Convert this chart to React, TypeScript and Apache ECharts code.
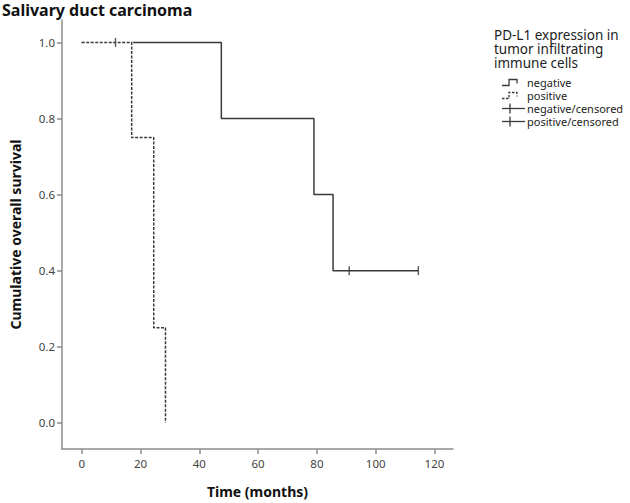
import React, { useEffect, useRef } from "react";
import * as echarts from "echarts";

// Kaplan–Meier step data
const negTimes = [0, 47.5, 79, 85.5, 114.5];
const negSurv = [1, 0.8, 0.6, 0.4, 0.4];
const posTimes = [0, 17, 24.5, 28.5];
const posSurv = [1, 0.75, 0.25, 0];
const negCensorTimes = [91, 114.5];
const negCensorSurv = [0.4, 0.4];
const posCensorTimes = [11.5];
const posCensorSurv = [1];

const xTicks = [0, 20, 40, 60, 80, 100, 120];
const yTicks = [0, 0.2, 0.4, 0.6, 0.8, 1.0];

const legendTitle = ["PD-L1 expression in", "tumor infiltrating", "immune cells"];
const legendItems = ["negative", "positive", "negative/censored", "positive/censored"];

const FONT = "'Noto Sans', 'Open Sans', sans-serif";
const LINE = "#3a3a3a";
const AXIS = "#8c8c8c";

function zip(a: number[], b: number[]) {
  return a.map((v, i) => [v, b[i]]);
}

export default function App() {
  const ref = useRef<HTMLDivElement>(null);
  useEffect(() => {
    if (!ref.current) return;
    const chart = echarts.init(ref.current, null, { renderer: "svg" });
    const tickStyle = { show: true, length: 5, lineStyle: { color: AXIS, width: 1.5 } };
    const legendGraphics: any[] = [];
    legendGraphics.push({
      type: "text",
      x: 494,
      y: 28,
      style: {
        text: legendTitle.join("\n"),
        font: `13.5px ${FONT}`,
        lineHeight: 14,
        fill: "#222",
        verticalAlign: "top",
        align: "left",
      },
    });
    const rowY = [82.5, 95.5, 108.5, 121.5];
    legendItems.forEach((name, i) => {
      const y = rowY[i];
      if (i < 2) {
        legendGraphics.push({
          type: "polyline",
          shape: {
            points: [
              [502, y + 3],
              [509, y + 3],
              [509, y - 3],
              [517, y - 3],
              [517, y + 1],
            ],
          },
          style: {
            stroke: LINE,
            lineWidth: 1.3,
            fill: null,
            lineDash: i === 1 ? [2.5, 1.5] : null,
          },
        });
      } else {
        legendGraphics.push({
          type: "line",
          shape: { x1: 502, y1: y, x2: 525, y2: y },
          style: { stroke: LINE, lineWidth: 1.3 },
        });
        legendGraphics.push({
          type: "line",
          shape: { x1: 510, y1: y - 5, x2: 510, y2: y + 5 },
          style: { stroke: LINE, lineWidth: 1.3 },
        });
      }
    });
    legendGraphics.push({
      type: "text",
      x: 527,
      y: rowY[0] - 6.5,
      style: {
        text: legendItems.join("\n"),
        font: `11px ${FONT}`,
        lineHeight: 13,
        fill: "#222",
        verticalAlign: "top",
        align: "left",
      },
    });

    chart.setOption({
      animation: false,
      backgroundColor: "#fff",
      title: {
        text: "Salivary duct carcinoma",
        left: 2,
        top: 2,
        padding: 0,
        textStyle: { fontFamily: FONT, fontSize: 16, fontWeight: "bold", color: "#111" },
      },
      grid: { left: 61, top: 20, width: 392, height: 435 },
      xAxis: {
        type: "value",
        min: -6.7,
        max: 126.3,
        splitLine: { show: false },
        axisLine: { show: true, onZero: false, lineStyle: { color: AXIS, width: 1.5 } },
        axisTick: { ...tickStyle, customValues: xTicks },
        axisLabel: {
          customValues: xTicks,
          color: "#444",
          fontFamily: FONT,
          fontSize: 11.5,
          margin: 8,
        },
        name: "Time (months)",
        nameLocation: "middle",
        nameGap: 35,
        nameTextStyle: { fontFamily: FONT, fontSize: 14, fontWeight: "bold", color: "#111" },
      },
      yAxis: {
        type: "value",
        min: -0.069,
        max: 1.059,
        splitLine: { show: false },
        axisLine: { show: true, onZero: false, lineStyle: { color: AXIS, width: 1.5 } },
        axisTick: { ...tickStyle, customValues: yTicks },
        axisLabel: {
          customValues: yTicks,
          formatter: (v: number) => v.toFixed(1),
          color: "#444",
          fontFamily: FONT,
          fontSize: 11.5,
          margin: 7,
        },
        name: "Cumulative overall survival",
        nameLocation: "middle",
        nameGap: 40,
        nameTextStyle: { fontFamily: FONT, fontSize: 14, fontWeight: "bold", color: "#111" },
      },
      graphic: legendGraphics,
      series: [
        {
          name: "negative",
          type: "line",
          step: "end",
          data: zip(negTimes, negSurv),
          showSymbol: false,
          lineStyle: { color: LINE, width: 1.5 },
          z: 2,
        },
        {
          name: "positive-under",
          type: "line",
          step: "end",
          data: zip(posTimes, posSurv),
          showSymbol: false,
          lineStyle: { color: "#fff", width: 3 },
          z: 3,
          silent: true,
        },
        {
          name: "positive",
          type: "line",
          step: "end",
          data: zip(posTimes, posSurv),
          showSymbol: false,
          lineStyle: { color: LINE, width: 1.5, type: [3, 1.5] },
          z: 4,
        },
        {
          name: "negative/censored",
          type: "scatter",
          data: zip(negCensorTimes, negCensorSurv),
          symbol: "rect",
          symbolSize: [1.5, 9],
          itemStyle: { color: LINE },
          z: 5,
        },
        {
          name: "positive/censored",
          type: "scatter",
          data: zip(posCensorTimes, posCensorSurv),
          symbol: "rect",
          symbolSize: [1.5, 9],
          itemStyle: { color: LINE },
          z: 5,
        },
      ],
    });
    return () => chart.dispose();
  }, []);
  return (
    <div
      ref={ref}
      style={{ position: "fixed", left: 0, top: 0, width: 630, height: 503 }}
    />
  );
}
